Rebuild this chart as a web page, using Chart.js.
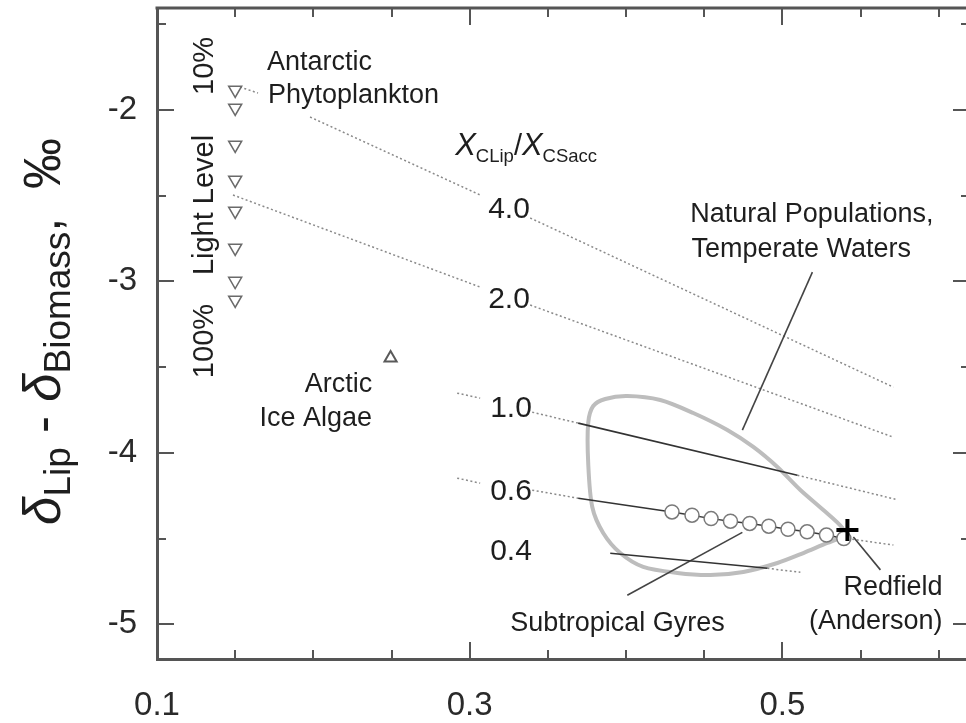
<!DOCTYPE html>
<html>
<head>
<meta charset="utf-8">
<script src="https://cdn.jsdelivr.net/npm/chart.js@4.4.1/dist/chart.umd.min.js"></script>
<style>
  html, body { margin: 0; padding: 0; background: #fff; overflow: hidden; }
  #wrap { width: 970px; height: 723px; }
</style>
</head>
<body>
<div id="wrap"><canvas id="chart" width="970" height="723"></canvas></div>
<script>
// axis ranges and ticks
const xRange = [0.1, 0.62];
const yRange = [-5.203, -1.405];
const xMajor = [0.1, 0.3, 0.5];
const xMinor = [0.15, 0.2, 0.25, 0.35, 0.4, 0.45, 0.55, 0.6];
const yMajor = [-2, -3, -4, -5];
const yMinor = [-1.5, -2.5, -3.5, -4.5];

// XCLip/XCSacc isolines (null = gap where a label sits)
const iso40X = [0.1531, 0.1646, null, 0.1979, 0.3067, null, 0.3387, 0.5710];
const iso40Y = [-1.866, -1.901, null, -2.041, -2.496, null, -2.630, -3.617];
const iso20X = [0.1486, 0.3067, null, 0.3387, 0.5710];
const iso20Y = [-2.496, -3.033, null, -3.138, -3.909];
const iso10DotX = [0.2920, 0.3067, null, 0.3400, 0.3694, null, 0.5096, 0.5723];
const iso10DotY = [-3.652, -3.681, null, -3.763, -3.827, null, -4.131, -4.271];
const iso10SolidX = [0.3694, 0.5096];
const iso10SolidY = [-3.827, -4.131];
const iso06DotX = [0.2920, 0.3067, null, 0.3400, 0.3694, null, 0.5390, 0.5710];
const iso06DotY = [-4.148, -4.177, null, -4.218, -4.265, null, -4.497, -4.538];
const iso06SolidX = [0.3694, 0.4294];
const iso06SolidY = [-4.265, -4.345];
const iso04SolidX = [0.3899, 0.4904];
const iso04SolidY = [-4.586, -4.674];
const iso04DotX = [0.4904, 0.5115];
const iso04DotY = [-4.674, -4.697];

// subtropical gyre model points (circles)
const gyreX = [0.4294, 0.4422, 0.4544, 0.4668, 0.4791, 0.4913, 0.5036, 0.5158, 0.5282, 0.5393];
const gyreY = [-4.345, -4.364, -4.384, -4.399, -4.412, -4.428, -4.446, -4.461, -4.480, -4.500];

// Antarctic phytoplankton, light levels 10% .. 100%
const antX = [0.150, 0.150, 0.150, 0.150, 0.150, 0.150, 0.150, 0.150];
const antY = [-1.883, -1.988, -2.204, -2.408, -2.589, -2.805, -2.998, -3.108];

// Arctic ice algae
const arcX = [0.2494];
const arcY = [-3.447];

// Redfield (Anderson)
const redX = [0.5416];
const redY = [-4.450];

// natural populations, temperate waters (outline)
const natX = [0.5390, 0.5288, 0.5134, 0.4968, 0.4750, 0.4539, 0.4328, 0.4110, 0.3963, 0.3854, 0.3784, 0.3758,
              0.3758, 0.3790, 0.3867, 0.4008, 0.4219, 0.4430, 0.4648, 0.4814, 0.4968, 0.5115, 0.5262, 0.5384, 0.5390];
const natY = [-4.491, -4.526, -4.585, -4.643, -4.695, -4.713, -4.701, -4.666, -4.585, -4.468, -4.316, -4.059,
              -3.826, -3.727, -3.686, -3.669, -3.692, -3.768, -3.867, -3.966, -4.083, -4.217, -4.334, -4.439, -4.491];

// leader lines for labels
const leadNatX = [0.5192, 0.4744];
const leadNatY = [-2.946, -3.868];
const leadGyreX = [0.4744, 0.4008];
const leadGyreY = [-4.464, -4.831];
const leadRedX = [0.5454, 0.5627];
const leadRedY = [-4.491, -4.683];

// text labels anchored in data units
const noteText = ['Antarctic', 'Phytoplankton', 'Arctic', 'Ice Algae', 'Natural Populations,', 'Temperate Waters',
                  'Subtropical Gyres', 'Redfield', '(Anderson)', '4.0', '2.0', '1.0', '0.6', '0.4'];
const noteX = [0.1704, 0.1710, 0.2376, 0.2376, 0.4411, 0.4418, 0.3259, 0.6024, 0.6024, 0.3118, 0.3118, 0.3131, 0.3131, 0.3131];
const noteY = [-1.767, -1.959, -3.645, -3.844, -2.653, -2.858, -5.040, -4.830, -5.028, -2.630, -3.155, -3.791, -4.275, -4.625];
const noteAlign = ['left', 'left', 'right', 'right', 'left', 'left', 'left', 'right', 'right', 'left', 'left', 'left', 'left', 'left'];

const FONT = '"Liberation Sans", Arial, Helvetica, sans-serif';

const pts = (xs, ys) => xs.map((v, i) => ({ x: v, y: ys[i] }));

const dotted = (xs, ys) => ({
    data: pts(xs, ys), showLine: true, pointRadius: 0, borderColor: '#8a8a8a',
    borderWidth: 1.5, borderDash: [2, 2.5], spanGaps: false, order: 5
});
const solid = (xs, ys, color, width) => ({
    data: pts(xs, ys), showLine: true, pointRadius: 0, borderColor: color,
    borderWidth: width, spanGaps: false, order: 3
});

// top/right frame and inward tick marks on all four sides
const tickPlugin = {
    id: 'inwardTicks',
    beforeDatasetsDraw(chart) {
        const { ctx, chartArea: a, scales: { x, y } } = chart;
        ctx.save();
        ctx.strokeStyle = '#555';
        const seg = (x1, y1, x2, y2) => { ctx.beginPath(); ctx.moveTo(x1, y1); ctx.lineTo(x2, y2); ctx.stroke(); };
        ctx.lineWidth = 3;
        seg(a.left - 1.5, a.top, a.right, a.top);
        seg(a.right, a.top, a.right, a.bottom);
        ctx.lineWidth = 2;
        xMajor.concat(xMinor).forEach(v => {
            const len = xMajor.includes(v) ? 17 : 9;
            const px = Math.round(x.getPixelForValue(v));
            seg(px, a.bottom, px, a.bottom - len);
            seg(px, a.top, px, a.top + len);
        });
        yMajor.concat(yMinor).forEach(v => {
            const len = yMajor.includes(v) ? 17 : 9;
            const py = Math.round(y.getPixelForValue(v));
            seg(a.left, py, a.left + len, py);
            seg(a.right, py, a.right - len, py);
        });
        ctx.restore();
    }
};

// draws a run of text pieces (main + subscripts) starting at 0,0 on the current transform
function drawRun(ctx, pieces, align) {
    let total = 0;
    pieces.forEach(p => { ctx.font = p.font; total += ctx.measureText(p.t).width; });
    let cx = align === 'center' ? -total / 2 : 0;
    pieces.forEach(p => {
        ctx.font = p.font;
        ctx.fillText(p.t, cx, p.dy || 0);
        cx += ctx.measureText(p.t).width;
    });
}

const textPlugin = {
    id: 'labels',
    afterDatasetsDraw(chart) {
        const { ctx, chartArea: a, scales: { x, y } } = chart;
        ctx.save();
        ctx.fillStyle = '#1e1e1e';
        ctx.textBaseline = 'alphabetic';

        noteText.forEach((t, i) => {
            ctx.font = (i >= 9 ? '30px ' : '27px ') + FONT;
            ctx.textAlign = noteAlign[i];
            ctx.fillText(t, x.getPixelForValue(noteX[i]), y.getPixelForValue(noteY[i]));
        });

        // X_CLip / X_CSacc
        ctx.textAlign = 'left';
        ctx.save();
        ctx.translate(x.getPixelForValue(0.2907), y.getPixelForValue(-2.263));
        drawRun(ctx, [
            { t: 'X', font: 'italic 31px ' + FONT },
            { t: 'CLip', font: '18.5px ' + FONT, dy: 7 },
            { t: '/', font: '29px ' + FONT },
            { t: 'X', font: 'italic 31px ' + FONT },
            { t: 'CSacc', font: '18.5px ' + FONT, dy: 7 }
        ], 'left');
        ctx.restore();

        // rotated light level labels
        const rot = (txt, px, py) => {
            ctx.save();
            ctx.translate(px, py);
            ctx.rotate(-Math.PI / 2);
            ctx.textAlign = 'center';
            ctx.font = '29px ' + FONT;
            ctx.fillText(txt, 0, 0);
            ctx.restore();
        };
        const llx = x.getPixelForValue(0.1358);
        rot('10%', llx, y.getPixelForValue(-1.743));
        rot('Light Level', llx, y.getPixelForValue(-2.554));
        rot('100%', llx, y.getPixelForValue(-3.348));

        // y axis title
        ctx.save();
        ctx.translate(a.left - 97, (a.top + a.bottom) / 2 - 2);
        ctx.rotate(-Math.PI / 2);
        ctx.textAlign = 'left';
        drawRun(ctx, [
            { t: '\u03b4', font: 'italic 51px ' + FONT },
            { t: 'Lip', font: '37px ' + FONT, dy: 10 },
            { t: ' - ', font: '51px ' + FONT },
            { t: '\u03b4', font: 'italic 51px ' + FONT },
            { t: 'Biomass', font: '37px ' + FONT, dy: 10 },
            { t: ',  ', font: '51px ' + FONT },
            { t: '\u2030', font: '51px ' + FONT }
        ], 'center');
        ctx.restore();

        ctx.restore();
    }
};

const noPad = s => { s.paddingTop = 0; s.paddingBottom = 0; s.paddingLeft = 0; s.paddingRight = 0; };

const config = {
    type: 'scatter',
    data: {
        datasets: [
            // Redfield cross
            { data: pts(redX, redY), pointStyle: 'cross', pointRadius: 11, borderColor: '#000', borderWidth: 4, order: 0 },
            // gyre circles with connecting line
            {
                data: pts(gyreX, gyreY), showLine: true, borderColor: '#3a3a3a', borderWidth: 1.5,
                pointRadius: 7, pointBorderColor: '#7a7a7a', pointBorderWidth: 1.5, pointBackgroundColor: '#fff', order: 1
            },
            // Antarctic phytoplankton
            {
                data: pts(antX, antY), pointStyle: 'triangle', pointRotation: 180, pointRadius: 7.5,
                borderColor: '#6a6a6a', borderWidth: 1.5, backgroundColor: 'rgba(255,255,255,0)', order: 1
            },
            // Arctic ice algae
            {
                data: pts(arcX, arcY), pointStyle: 'triangle', pointRadius: 7,
                borderColor: '#5a5a5a', borderWidth: 2, backgroundColor: 'rgba(255,255,255,0)', order: 1
            },
            solid(iso10SolidX, iso10SolidY, '#333', 1.6),
            solid(iso06SolidX, iso06SolidY, '#333', 1.6),
            solid(iso04SolidX, iso04SolidY, '#333', 1.6),
            solid(leadNatX, leadNatY, '#444', 1.6),
            solid(leadGyreX, leadGyreY, '#444', 1.6),
            solid(leadRedX, leadRedY, '#444', 1.6),
            dotted(iso40X, iso40Y),
            dotted(iso20X, iso20Y),
            dotted(iso10DotX, iso10DotY),
            dotted(iso06DotX, iso06DotY),
            dotted(iso04DotX, iso04DotY),
            // natural populations outline
            {
                data: pts(natX, natY), showLine: true, pointRadius: 0, borderColor: '#bdbdbd',
                borderWidth: 4, tension: 0.3, order: 9
            }
        ]
    },
    options: {
        responsive: false,
        animation: false,
        layout: { autoPadding: false, padding: { top: 8, right: 0, bottom: 0, left: 0 } },
        plugins: { legend: { display: false }, tooltip: { enabled: false } },
        scales: {
            x: {
                type: 'linear', position: 'bottom', min: xRange[0], max: xRange[1],
                afterBuildTicks: s => { s.ticks = xMajor.map(v => ({ value: v })); },
                afterFit: s => { s.height = 64; noPad(s); },
                grid: { display: false, drawTicks: false },
                border: { display: true, width: 3, color: '#555' },
                ticks: { color: '#2a2a2a', padding: 27, maxRotation: 0, font: { size: 33, family: FONT }, callback: v => v.toFixed(1) }
            },
            y: {
                type: 'linear', position: 'left', min: yRange[0], max: yRange[1],
                afterBuildTicks: s => { s.ticks = yMajor.map(v => ({ value: v })); },
                afterFit: s => { s.width = 157; noPad(s); },
                grid: { display: false, drawTicks: false },
                border: { display: true, width: 3, color: '#555' },
                ticks: { color: '#2a2a2a', padding: 20, font: { size: 33, family: FONT }, callback: v => String(v) }
            }
        }
    },
    plugins: [tickPlugin, textPlugin]
};

new Chart(document.getElementById('chart'), config);
</script>
</body>
</html>
